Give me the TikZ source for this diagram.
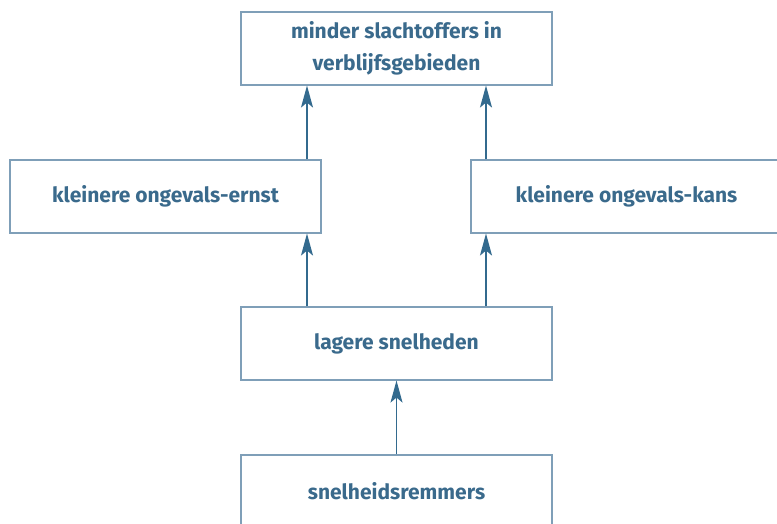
\documentclass[tikz,border=0pt]{standalone}
\usepackage{fontspec}
\setmainfont{Fira Sans}
\usetikzlibrary{arrows.meta}
\definecolor{boxline}{HTML}{7F9FB8}
\definecolor{txt}{HTML}{3A6A8C}
\definecolor{arr}{HTML}{336A8E}
\begin{document}
\begin{tikzpicture}[x=1pt,y=-1pt,
  box/.style={draw=boxline,line width=1.1pt,minimum width=311pt,minimum height=73pt,
    inner sep=0pt,text=txt,align=center,font=\fontsize{21}{32}\selectfont\bfseries},
  link/.style={draw=arr,line width=1.4pt,-{Stealth[length=22pt,width=12pt,inset=5pt]}}]
\clip (0,0) rectangle (777,524);
\fill[white] (0,0) rectangle (777,524);
\node[box] (top) at (396.5,48.5) {minder slachtoffers in\\verblijfsgebieden};
\node[box] (left) at (165.5,196.5) {kleinere ongevals-ernst};
\node[box] (right) at (626.5,196.5) {kleinere ongevals-kans};
\node[box] (mid) at (396.5,343.5) {lagere snelheden};
\node[box] (bot) at (396.5,491.5) {snelheidsremmers};
\draw[link] (left.north -| 307,0) -- (top.south -| 307,0);
\draw[link] (right.north -| 486,0) -- (top.south -| 486,0);
\draw[link] (mid.north -| 307,0) -- (left.south -| 307,0);
\draw[link] (mid.north -| 486,0) -- (right.south -| 486,0);
\draw[link] (bot.north) -- (mid.south);
\end{tikzpicture}
\end{document}
